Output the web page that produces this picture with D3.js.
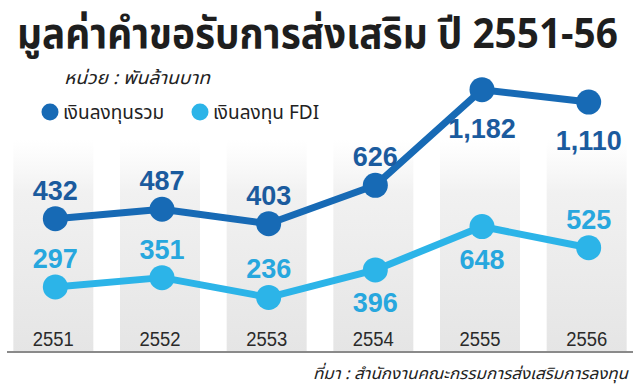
<!DOCTYPE html>
<html>
<head>
<meta charset="utf-8">
<script src="https://cdn.jsdelivr.net/npm/d3@7"></script>
<style>
  html, body { margin: 0; padding: 0; background: #fff; }
  svg { display: block; }
</style>
</head>
<body>
<svg id="chart" width="640" height="390"></svg>
<script>
// ---- data ----
const years = ["2551", "2552", "2553", "2554", "2555", "2556"];
const totalInvestment = [432, 487, 403, 626, 1182, 1110];
const fdiInvestment = [297, 351, 236, 396, 648, 525];
const seriesNames = ["เงินลงทุนรวม", "เงินลงทุน FDI"];
const titleText = "มูลค่าคำขอรับการส่งเสริม ปี 2551-56";
const unitText = "หน่วย : พันล้านบาท";
const sourceText = "ที่มา : สำนักงานคณะกรรมการส่งเสริมการลงทุน";

// ---- styles ----
const darkBlue = "#176ab5", darkLabel = "#1b5b9e";
const lightBlue = "#2cb4e8", lightLabel = "#27a7de";
const thaiFont = "'Noto Sans Thai', 'Noto Sans Thai UI', Tahoma, 'Noto Sans', sans-serif";
const narrow = "'Liberation Sans Narrow', 'Arial Narrow', 'Liberation Sans', Arial, sans-serif";

const svg = d3.select("#chart");

const x = d3.scaleBand().domain(years).range([0, 640]).paddingInner(0.25).paddingOuter(0.125);
const yTotal = d3.scaleLinear().domain([0, 1200]).range([293, 86.6]);
const yFdi = d3.scaleLinear().domain([0, 1200]).range([338, 131.6]);
const fmt = d3.format(",");

// gradient for columns
const defs = svg.append("defs");
const grad = defs.append("linearGradient").attr("id", "colGrad")
  .attr("x1", 0).attr("y1", 0).attr("x2", 0).attr("y2", 1);
grad.append("stop").attr("offset", "0%").attr("stop-color", "#f4f4f4").attr("stop-opacity", 0);
grad.append("stop").attr("offset", "25%").attr("stop-color", "#f1f1f1").attr("stop-opacity", 1);
grad.append("stop").attr("offset", "100%").attr("stop-color", "#e5e5e5").attr("stop-opacity", 1);

const colTop = 140, baseY = 352;
svg.append("g").selectAll("rect").data(years).join("rect")
  .attr("x", d => x(d)).attr("width", x.bandwidth())
  .attr("y", colTop).attr("height", baseY - colTop)
  .attr("fill", "url(#colGrad)");

// axis
const axis = svg.append("g").attr("transform", `translate(0,${baseY})`)
  .call(d3.axisBottom(x).tickSize(0).tickPadding(-20));
axis.select(".domain").remove();
axis.selectAll("text")
  .attr("font-family", narrow).attr("font-size", 20).attr("fill", "#2a2a2a")
  .attr("textLength", 41).attr("lengthAdjust", "spacingAndGlyphs");
svg.append("line").attr("x1", 7).attr("x2", 633).attr("y1", baseY).attr("y2", baseY)
  .attr("stroke", "#8a8a8a").attr("stroke-width", 2);

// lines
const cx = d => x(d) + x.bandwidth() / 2 + 2;
function drawSeries(values, y, color, labelColor, below, belowOffset) {
  const pts = values.map((v, i) => [cx(years[i]), y(v), v, i]);
  svg.append("path").datum(pts)
    .attr("d", d3.line().x(d => d[0]).y(d => d[1]))
    .attr("fill", "none").attr("stroke", color).attr("stroke-width", 7)
    .attr("stroke-linejoin", "round");
  svg.append("g").selectAll("circle").data(pts).join("circle")
    .attr("cx", d => d[0]).attr("cy", d => d[1]).attr("r", 12.5).attr("fill", color);
  svg.append("g").selectAll("text").data(pts).join("text")
    .attr("x", d => d[0]).attr("y", d => below[d[3]] ? d[1] + belowOffset : d[1] - 19)
    .attr("text-anchor", "middle")
    .attr("font-family", narrow).attr("font-weight", "bold").attr("font-size", 27)
    .attr("fill", labelColor).text(d => fmt(d[2]));
}
drawSeries(totalInvestment, yTotal, darkBlue, darkLabel, [false, false, false, false, true, true], 48);
drawSeries(fdiInvestment, yFdi, lightBlue, lightLabel, [false, false, false, true, true, false], 42);

// title: scaled horizontally with a transform to fit the reference width
const title = svg.append("text").attr("x", 0).attr("y", 0)
  .attr("font-family", thaiFont).attr("font-weight", "bold").attr("font-size", 42)
  .attr("fill", "#1e1e1e")
  .text(titleText);
const natural = title.node().getComputedTextLength();
const sx = Math.min(1, 601 / natural);
title.attr("transform", `translate(17,48) scale(${sx},1)`);

svg.append("text").attr("x", 64).attr("y", 84)
  .attr("font-family", thaiFont).attr("font-style", "italic").attr("font-size", 18)
  .attr("fill", "#222")
  .attr("textLength", 146).attr("lengthAdjust", "spacingAndGlyphs")
  .text(unitText);

// legend
const legend = svg.append("g");
const legendItems = [
  {name: seriesNames[0], color: darkBlue, cx: 50, tx: 63},
  {name: seriesNames[1], color: lightBlue, cx: 200, tx: 213}
];
legend.selectAll("circle").data(legendItems).join("circle")
  .attr("cx", d => d.cx).attr("cy", 112).attr("r", 8.5).attr("fill", d => d.color);
legend.selectAll("text").data(legendItems).join("text")
  .attr("x", d => d.tx).attr("y", 119)
  .attr("font-family", thaiFont).attr("font-size", 19).attr("fill", "#222")
  .text(d => d.name);

// source
svg.append("text").attr("x", 628).attr("y", 379).attr("text-anchor", "end")
  .attr("font-family", thaiFont).attr("font-style", "italic").attr("font-size", 16)
  .attr("fill", "#222")
  .attr("textLength", 315).attr("lengthAdjust", "spacingAndGlyphs")
  .text(sourceText);
</script>
</body>
</html>
